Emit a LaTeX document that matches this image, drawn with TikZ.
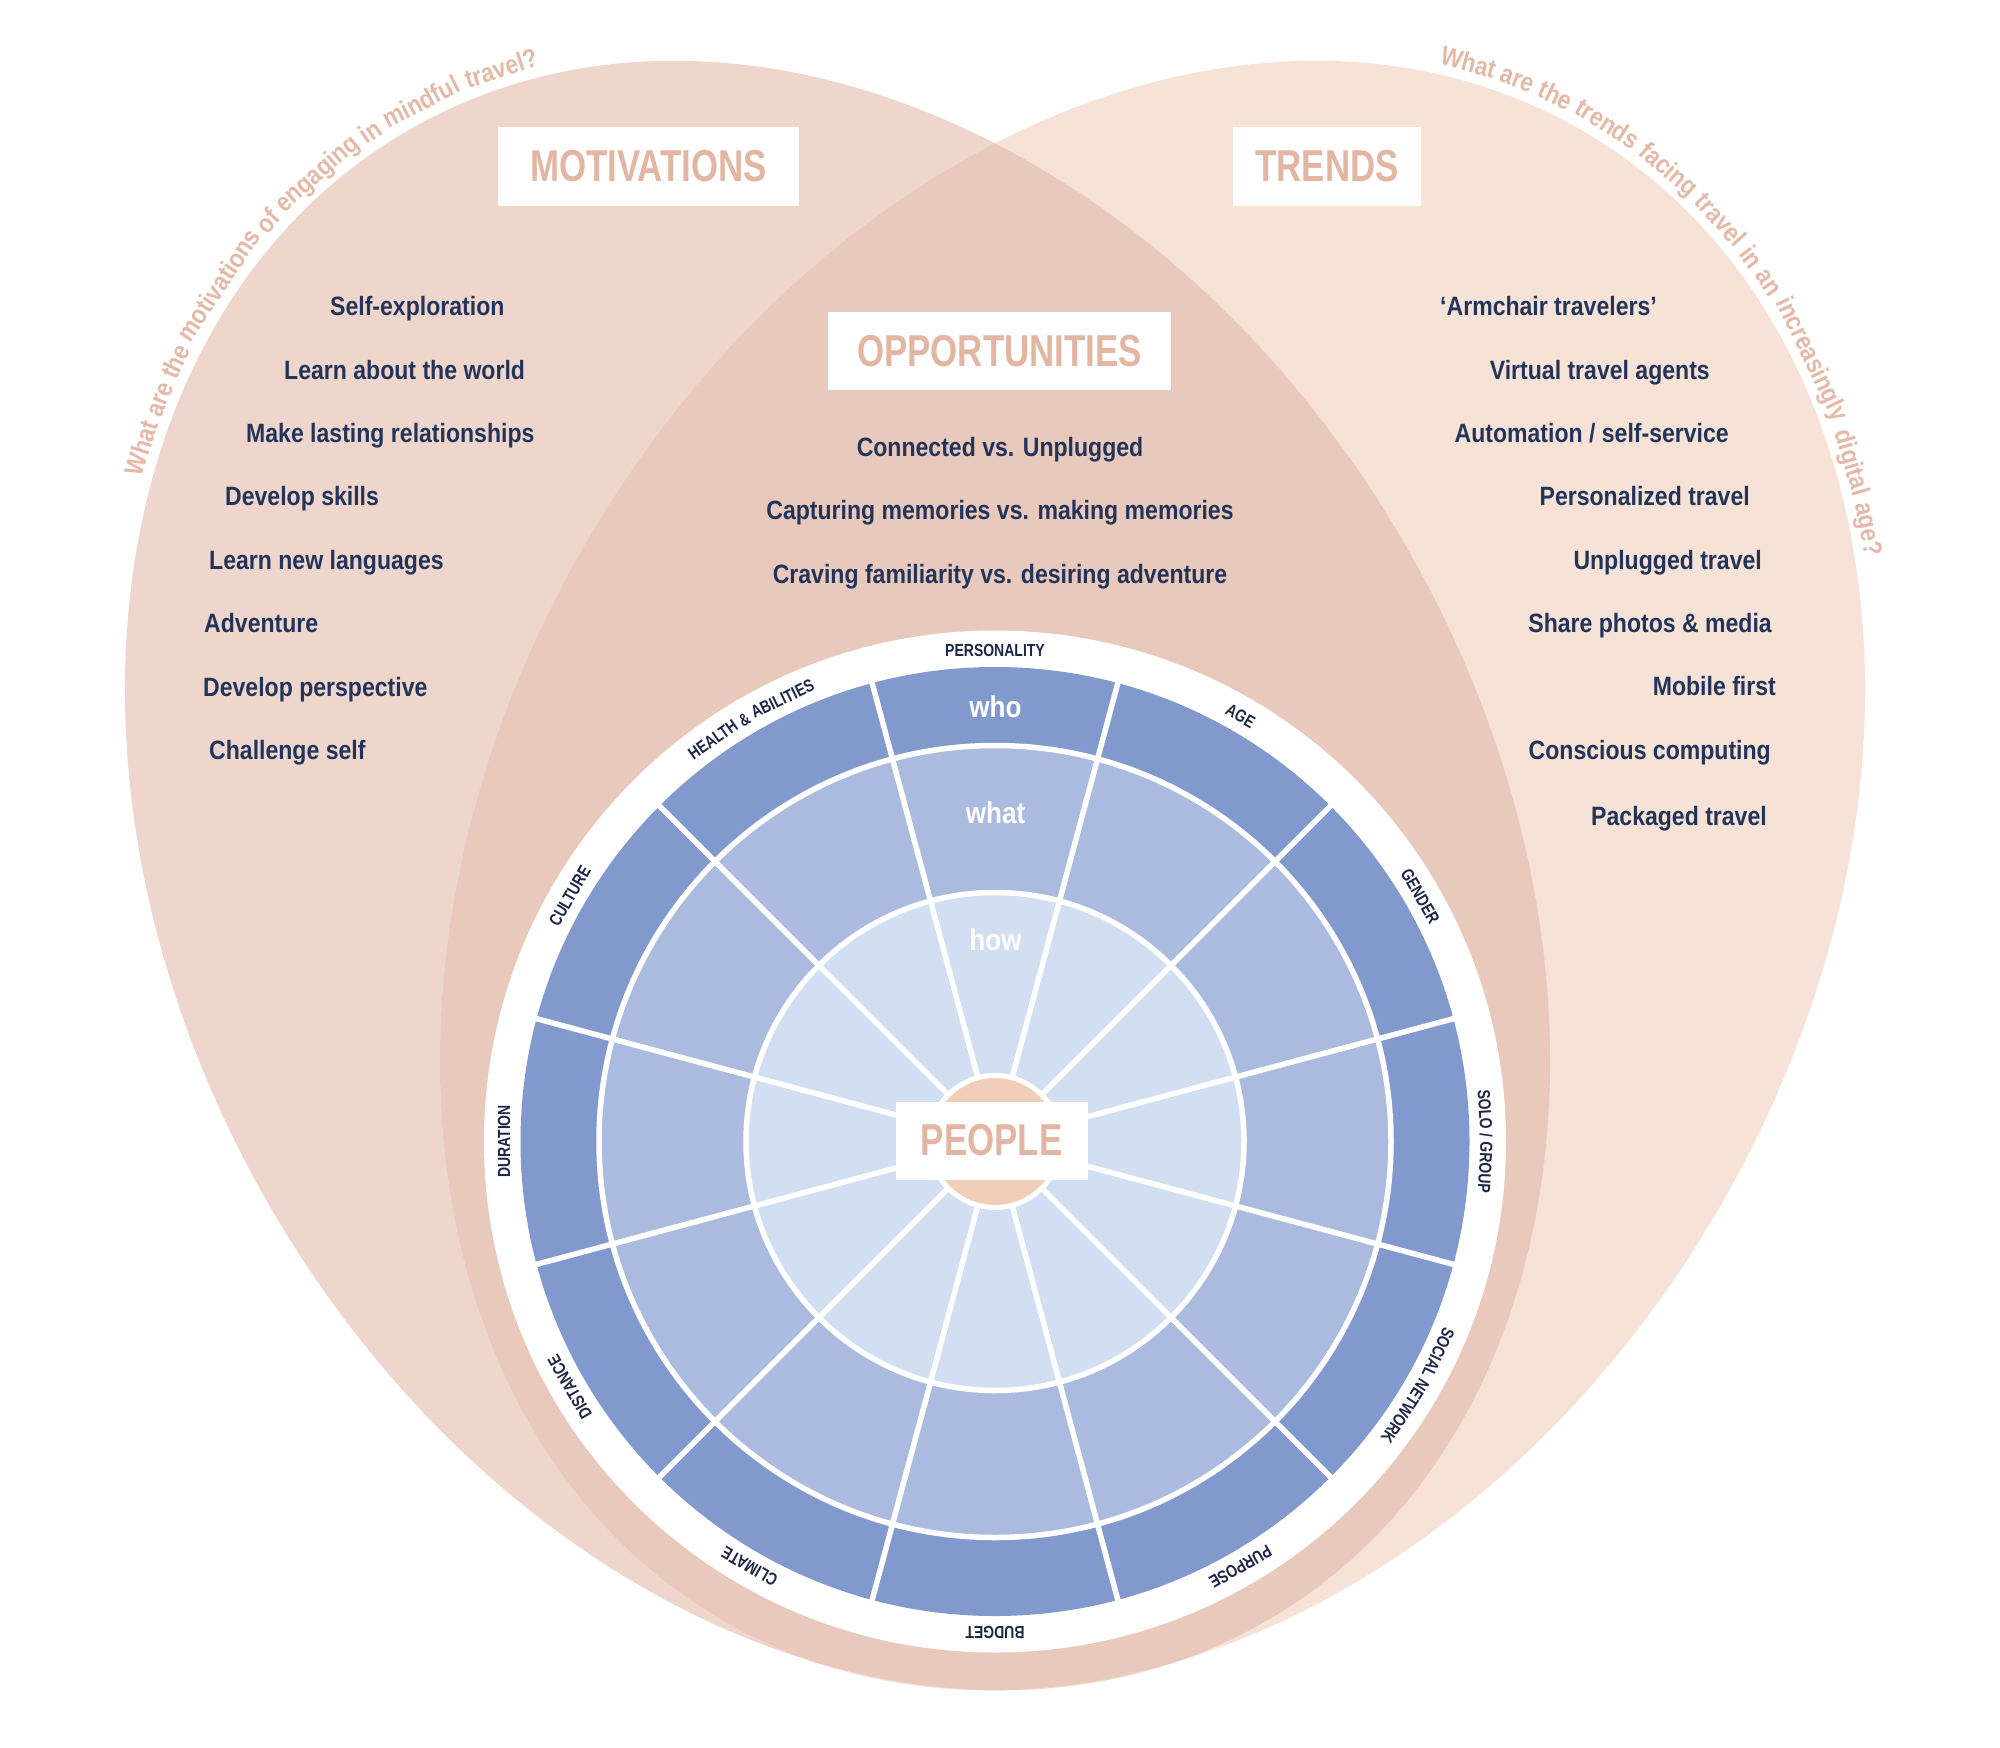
\documentclass[tikz,border=0pt]{standalone}
\usepackage{fontspec}
\setmainfont{Liberation Sans}
\newfontfamily\listfam{Liberation Sans}[FakeStretch=0.87]
\newfontfamily\labfam{Liberation Sans}[FakeStretch=0.80]
\newfontfamily\headfam{Liberation Sans}[FakeStretch=0.78]
\definecolor{motcol}{HTML}{EFD6CC}
\definecolor{trecol}{HTML}{F6E2D6}
\definecolor{oppcol}{HTML}{E9C9BB}
\definecolor{salmon}{HTML}{E3B5A3}
\definecolor{qcol}{HTML}{E5B9A8}
\definecolor{navy}{HTML}{23345A}
\definecolor{wlnavy}{HTML}{1B2649}
\definecolor{ringA}{HTML}{8199CC}
\definecolor{ringB}{HTML}{AABBDF}
\definecolor{ringC}{HTML}{D2DEF1}
\definecolor{peach}{HTML}{F0CEB8}
\newlength\wlen
\newlength\slen
\newcommand\qf{\listfam\bfseries\fontsize{26.3}{30}\selectfont}
\newcommand\lf{\labfam\bfseries\fontsize{17.5}{20}\selectfont}
% compute word positions along a rotated ellipse (clockwise, tops outward)
% #1 list macro, #2 cx, #3 cy, #4 rx, #5 ry, #6 rot, #7 start angle, #8 font, #9 words
\newcommand\ellcompute[9]{%
  \gdef#1{}%
  \xdef\curt{#7}%
  {#8\global\slen=\fontdimen2\font}%
  \foreach \w in {#9} {%
    \settowidth{\wlen}{#8\w}%
    \pgfmathsetmacro\spd{100*sqrt((#4/100*sin(\curt))^2+(#5/100*cos(\curt))^2)}%
    \pgfmathsetmacro\dtt{\wlen/\spd*57.29578}%
    \pgfmathsetmacro\tmid{\curt-\dtt/2}%
    \pgfmathsetmacro\lxx{#4*cos(\tmid)}%
    \pgfmathsetmacro\lyy{#5*sin(\tmid)}%
    \pgfmathsetmacro\XX{#2+\lxx*cos(#6)-\lyy*sin(#6)}%
    \pgfmathsetmacro\YY{#3+\lxx*sin(#6)+\lyy*cos(#6)}%
    \pgfmathsetmacro\angg{atan2(-#5*cos(\tmid),#4*sin(\tmid))+#6}%
    \ifx#1\empty\xdef#1{\XX/\YY/\angg/{\w}}\else\xdef#1{#1,\XX/\YY/\angg/{\w}}\fi
    \pgfmathsetmacro\nxt{\curt-(\wlen+\slen)/\spd*57.29578}%
    \xdef\curt{\nxt}%
  }%
}
\newcommand\wheelcompute[4]{%
  \settowidth{\wlen}{\lf #3}%
  \pgfmathsetmacro\tz{#2+(\wlen/2)/485*57.29578}%
  \ellcompute{#1}{995}{-1141.5}{485}{485}{0}{\tz}{\lf}{#4}%
}
\newcommand\placewords[3]{%
  \foreach \px/\py/\pa/\pw [count=\i] in #1 {\node[font=#3, rotate=\pa, anchor=base, inner sep=0pt] (#2\i) at (\px,\py) {\pw};}%
}
\tikzset{
  item/.style={font=\listfam\bfseries\fontsize{26.5}{30}\selectfont, text=navy, inner sep=0pt},
  head/.style={fill=white, inner sep=0pt, font=\headfam\bfseries\fontsize{44.7}{50}\selectfont, text=salmon},
  ringtxt/.style={font=\listfam\bfseries\fontsize{30}{34}\selectfont, text=white, inner sep=0pt},
  sep/.style={draw=white, line width=5.5pt},
}
\begin{document}
\ellcompute{\qalist}{837.5}{-875.5}{667}{870}{29.8}{127.4}{\qf}{What,are,the,motivations,of,engaging,in,mindful,travel?}%
\ellcompute{\qblist}{1152.5}{-875.5}{667}{870}{-29.8}{103.4}{\qf}{What,are,the,trends,facing,travel,in,an,increasingly,digital,age?}%
\wheelcompute{\wla}{90}{PERSONALITY}{PERSONALITY}%
\wheelcompute{\wlb}{60}{AGE}{AGE}%
\wheelcompute{\wlc}{30}{GENDER}{GENDER}%
\wheelcompute{\wld}{0}{SOLO / GROUP}{SOLO,/,GROUP}%
\wheelcompute{\wle}{-30}{SOCIAL NETWORK}{SOCIAL,NETWORK}%
\wheelcompute{\wlf}{-60}{PURPOSE}{PURPOSE}%
\wheelcompute{\wlg}{-90}{BUDGET}{BUDGET}%
\wheelcompute{\wlh}{-120}{CLIMATE}{CLIMATE}%
\wheelcompute{\wli}{-150}{DISTANCE}{DISTANCE}%
\wheelcompute{\wlj}{180}{DURATION}{DURATION}%
\wheelcompute{\wlk}{150}{CULTURE}{CULTURE}%
\wheelcompute{\wll}{120}{HEALTH \& ABILITIES}{HEALTH,\&,ABILITIES}%
\begin{tikzpicture}[x=1pt,y=1pt]
\useasboundingbox (0,0) rectangle (2000,-1748);
\fill[white] (0,0) rectangle (2000,-1748);
% Venn ellipses
\fill[motcol, rotate around={29.8:(837.5,-875.5)}] (837.5,-875.5) ellipse[x radius=657, y radius=860];
\fill[trecol, rotate around={-29.8:(1152.5,-875.5)}] (1152.5,-875.5) ellipse[x radius=657, y radius=860];
\begin{scope}
\clip[rotate around={29.8:(837.5,-875.5)}] (837.5,-875.5) ellipse[x radius=657, y radius=860];
\fill[oppcol, rotate around={-29.8:(1152.5,-875.5)}] (1152.5,-875.5) ellipse[x radius=657, y radius=860];
\end{scope}
% curved questions
\begin{scope}[every node/.append style={text=qcol}]
\placewords{\qalist}{qa}{\qf}
\placewords{\qblist}{qb}{\qf}
\end{scope}
% headers
\node[head, minimum width=301, minimum height=79] (mot) at (648.5,-166.5) {MOTIVATIONS};
\node[head, minimum width=188, minimum height=79] (tre) at (1327,-166.5) {TRENDS};
\node[head, minimum width=343, minimum height=78] (opp) at (999.5,-351) {OPPORTUNITIES};
% motivations list
\node[item, anchor=base west] (m1) at (330,-315) {Self-exploration};
\node[item, anchor=base west] (m2) at (284,-379) {Learn about the world};
\node[item, anchor=base west] (m3) at (246,-442) {Make lasting relationships};
\node[item, anchor=base west] (m4) at (225,-505) {Develop skills};
\node[item, anchor=base west] (m5) at (209,-569) {Learn new languages};
\node[item, anchor=base west] (m6) at (204,-632) {Adventure};
\node[item, anchor=base west] (m7) at (203,-696) {Develop perspective};
\node[item, anchor=base west] (m8) at (209,-759) {Challenge self};
% trends list
\node[item, anchor=base east] (t1) at (1657,-315) {‘Armchair travelers’};
\node[item, anchor=base east] (t2) at (1710,-379) {Virtual travel agents};
\node[item, anchor=base east] (t3) at (1729,-442) {Automation / self-service};
\node[item, anchor=base east] (t4) at (1750,-505) {Personalized travel};
\node[item, anchor=base east] (t5) at (1762,-569) {Unplugged travel};
\node[item, anchor=base east] (t6) at (1772,-632) {Share photos \& media};
\node[item, anchor=base east] (t7) at (1776,-695) {Mobile first};
\node[item, anchor=base east] (t8) at (1771,-759) {Conscious computing};
\node[item, anchor=base east] (t9) at (1767,-825) {Packaged travel};
% opportunities list
\node[item, anchor=base] (o1) at (1000,-456) {Connected vs. Unplugged};
\node[item, anchor=base] (o2) at (1000,-519) {Capturing memories vs. making memories};
\node[item, anchor=base] (o3) at (1000,-583) {Craving familiarity vs. desiring adventure};
% wheel
\coordinate (C) at (995,-1141.5);
\fill[white] (C) circle (511);
\fill[ringA] (C) circle (474.5);
\fill[ringB] (C) circle (396);
\fill[ringC] (C) circle (249);
\draw[sep] (C) circle (396);
\draw[sep] (C) circle (249);
\foreach \a in {15,45,...,345} {\draw[sep] (C) ++(\a:60) -- ++(\a:418);}
\filldraw[fill=peach, draw=white, line width=5pt] (C) circle (66);
\node[head, minimum width=192, minimum height=78] (people) at (991.7,-1140.5) {PEOPLE};
\node[ringtxt, anchor=base] (who) at (995.5,-717) {who};
\node[ringtxt, anchor=base] (what) at (995.5,-823) {what};
\node[ringtxt, anchor=base] (how) at (995.5,-950) {how};
% wheel labels
\begin{scope}[every node/.append style={text=wlnavy}]
\placewords{\wla}{wa}{\lf}
\placewords{\wlb}{wb}{\lf}
\placewords{\wlc}{wc}{\lf}
\placewords{\wld}{wd}{\lf}
\placewords{\wle}{we}{\lf}
\placewords{\wlf}{wf}{\lf}
\placewords{\wlg}{wg}{\lf}
\placewords{\wlh}{wh}{\lf}
\placewords{\wli}{wi}{\lf}
\placewords{\wlj}{wj}{\lf}
\placewords{\wlk}{wk}{\lf}
\placewords{\wll}{wl}{\lf}
\end{scope}
\end{tikzpicture}
\end{document}
